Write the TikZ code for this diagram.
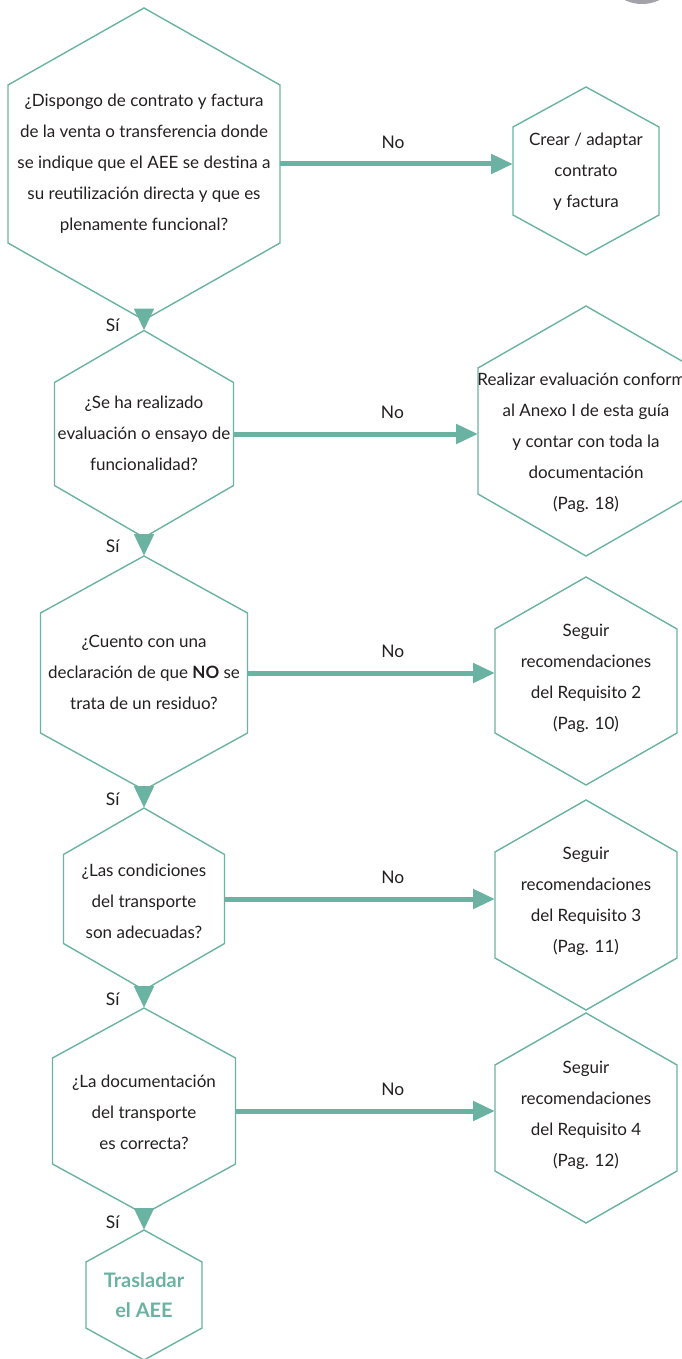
\documentclass[tikz,border=0pt]{standalone}
\usepackage{fontspec}
\setmainfont{Lato}
\usetikzlibrary{arrows.meta}

\definecolor{flowteal}{RGB}{106,178,162}
\definecolor{flowtext}{RGB}{35,31,32}
\definecolor{markgray}{RGB}{162,162,168}

\tikzset{
  hexbox/.style={inner sep=0pt, align=center, text=flowtext,
    font=\fontsize{17pt}{31pt}\selectfont},
  hexline/.style={draw=flowteal, line width=1.4pt, line join=miter},
  flowarrow/.style={draw=flowteal, line width=5pt,
    -{Triangle[length=22pt,width=19pt]}},
  answer/.style={text=flowtext, inner sep=0pt,
    font=\fontsize{17.4pt}{20pt}\selectfont},
}

% hexagon: name, cx, cy, half width, half side, tip
\newcommand{\hexshape}[6]{%
  \draw[hexline] ({#2-#4},{#3-#5}) -- (#2,{#3-#5-#6}) coordinate (#1-top)
    -- ({#2+#4},{#3-#5}) -- ({#2+#4},{#3+#5})
    -- (#2,{#3+#5+#6}) coordinate (#1-bot) -- ({#2-#4},{#3+#5}) -- cycle;
  \coordinate (#1-w) at ({#2-#4},#3);
  \coordinate (#1-e) at ({#2+#4},#3);
}

\begin{document}
\begin{tikzpicture}[x=1pt,y=-1pt]
  \useasboundingbox (0,0) rectangle (681,1359);
  \fill[markgray] (642,-36) circle (40pt);

  % questions
  \hexshape{q1}{144}{164}{136}{79}{77}
  \node[hexbox] (q1t) at (144,164) {¿Dispongo de contrato y factura\\
    de la venta o transferencia donde\\
    se indique que el AEE se destina a\\
    su reutilización directa y que es\\
    plenamente funcional?};
  \hexshape{q2}{144}{434}{89.5}{51.5}{52}
  \node[hexbox] (q2t) at (144,433) {¿Se ha realizado\\
    evaluación o ensayo de\\ funcionalidad?};
  \hexshape{q3}{144}{673}{103.5}{60}{57}
  \node[hexbox] (q3t) at (144,672) {¿Cuento con una\\
    declaración de que \textbf{NO} se\\ trata de un residuo?};
  \hexshape{q4}{144}{899}{80.5}{44.5}{46.5}
  \node[hexbox] (q4t) at (144,901) {¿Las condiciones\\
    del transporte\\ son adecuadas?};
  \hexshape{q5}{144}{1111}{91.5}{53}{50}
  \node[hexbox] (q5t) at (144,1112) {¿La documentación\\
    del transporte\\ es correcta?};
  \hexshape{q6}{144}{1295}{58}{33}{32}
  \node[hexbox, text=flowteal, font=\fontsize{20pt}{30pt}\selectfont\bfseries]
    (q6t) at (144,1295) {Trasladar\\ el AEE};

  % actions
  \hexshape{r1}{586}{171}{73}{44}{40}
  \node[hexbox] (r1t) at (586,172) {Crear / adaptar\\ contrato\\ y factura};
  \hexshape{r2}{586}{431}{108}{63}{62}
  \node[hexbox] (r2t) at (586,443) {Realizar evaluación conforme\\
    al Anexo I de esta guía\\ y contar con toda la\\
    documentación\\ (Pag. 18)};
  \hexshape{r3}{586}{681}{91}{52}{52}
  \node[hexbox] (r3t) at (586,678) {Seguir\\ recomendaciones\\
    del Requisito 2\\ (Pag. 10)};
  \hexshape{r4}{586}{905}{91}{53}{52}
  \node[hexbox] (r4t) at (586,901) {Seguir\\ recomendaciones\\
    del Requisito 3\\ (Pag. 11)};
  \hexshape{r5}{586}{1118}{91}{53}{52}
  \node[hexbox] (r5t) at (586,1115) {Seguir\\ recomendaciones\\
    del Requisito 4\\ (Pag. 12)};

  % no
  \draw[flowarrow] (q1-e) -- node[answer, pos=0.485, above=13pt] (no1) {No} (q1-e -| r1-w);
  \draw[flowarrow] (q2-e) -- node[answer, pos=0.65, above=13pt] (no2) {No} (q2-e -| r2-w);
  \draw[flowarrow] (q3-e) -- node[answer, pos=0.587, above=13pt] (no3) {No} (q3-e -| r3-w);
  \draw[flowarrow] (q4-e) -- node[answer, pos=0.622, above=13pt] (no4) {No} (q4-e -| r4-w);
  \draw[flowarrow] (q5-e) -- node[answer, pos=0.606, above=13pt] (no5) {No} (q5-e -| r5-w);

  % si
  \draw[flowarrow] (q1-bot) -- node[answer, left=22pt] (si1) {Sí} (q2-top);
  \draw[flowarrow] (q2-bot) -- node[answer, left=22pt] (si2) {Sí} (q3-top);
  \draw[flowarrow] (q3-bot) -- node[answer, left=22pt] (si3) {Sí} (q4-top);
  \draw[flowarrow] (q4-bot) -- node[answer, left=22pt] (si4) {Sí} (q5-top);
  \draw[flowarrow] (q5-bot) -- node[answer, left=22pt] (si5) {Sí} (q6-top);
\end{tikzpicture}
\end{document}
